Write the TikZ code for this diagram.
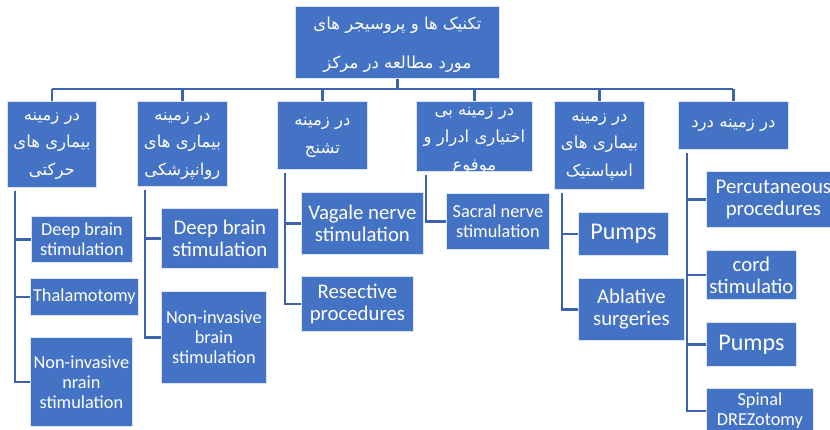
\documentclass[tikz,border=0pt]{standalone}
\usepackage{fontspec}
\setmainfont{Carlito}
\newfontfamily\fafont[Script=Arabic]{DejaVu Sans}
\TeXXeTstate=1
\usepackage{tikz}

\definecolor{boxblue}{HTML}{4472C4}
\definecolor{linkblue}{HTML}{3C64AE}
\newcommand{\fatext}[1]{\beginR #1\endR}
\newcommand{\falast}[1]{\smash{\beginR #1\endR}}

\tikzset{
  box/.style={draw=white!80!boxblue, line width=0.8pt, fill=boxblue, text=white,
              anchor=north west, align=center, inner sep=1pt},
  smallbox/.style={box, font=\fontsize{18.3}{20}\selectfont},
  largebox/.style={box, font=\fontsize{20.8}{22}\selectfont},
  bigbox/.style={box, font=\fontsize{24}{26}\selectfont},
  % #1 = distance from the top of the text box to the last baseline
  fabox/.style={box, text height=#1, font=\fafont\fontsize{16.5}{27.5}\selectfont},
  link/.style={draw=linkblue, line width=2.5pt},
}

\begin{document}
\begin{tikzpicture}[x=1pt,y=-1pt]
  \useasboundingbox (0,0) rectangle (830,430);
  \clip (0,0) rectangle (830,430);

  % root
  \node[fabox=52pt, minimum width=204pt, minimum height=72pt,
        font=\fafont\fontsize{16.5}{39}\selectfont] (root) at (295,6)
        {\fatext{تکنیک ها و پروسیجر های}\\\falast{مورد مطالعه در مرکز}};

  % first level
  \node[fabox=62pt, minimum width=89pt, minimum height=86pt] (c1) at (7,101)
        {\fatext{در زمینه}\\\fatext{بیماری های}\\\falast{حرکتی}};
  \node[fabox=63pt, minimum width=90pt, minimum height=85pt] (c2) at (137,101)
        {\fatext{در زمینه}\\\fatext{بیماری های}\\\falast{روانپزشکی}};
  \node[fabox=36pt, minimum width=90pt, minimum height=68pt] (c3) at (277,101)
        {\fatext{در زمینه}\\\falast{تشنج}};
  \node[fabox=68pt, minimum width=116pt, minimum height=70pt] (c4) at (416,101)
        {\fatext{در زمینه بی}\\\fatext{اختیاری ادرار و}\\\falast{موفوع}};
  \node[fabox=62pt, minimum width=90pt, minimum height=88pt] (c5) at (554,101)
        {\fatext{در زمینه}\\\fatext{بیماری های}\\\falast{اسپاستیک}};
  \node[fabox=4pt, minimum width=110pt, minimum height=48pt] (c6) at (678,101)
        {\falast{در زمینه درد}};

  % bus
  \coordinate (bus) at (0,89);
  \draw[link] (root.south) -- (root.south |- bus);
  \draw[link] (c1.north |- bus) -- (c6.north |- bus);
  \foreach \c in {c1,c2,c3,c4,c5,c6}
    \draw[link] (\c.north |- bus) -- (\c.north);

  % second level
  \node[smallbox, minimum width=101pt, minimum height=46pt] (d11) at (31,216) {Deep brain\\stimulation};
  \node[smallbox, minimum width=108pt, minimum height=37pt] (d12) at (30,278) {Thalamotomy};
  \node[smallbox, minimum width=102pt, minimum height=89pt] (d13) at (30,337) {Non-invasive\\nrain\\stimulation};

  \node[largebox, minimum width=117pt, minimum height=60pt] (d21) at (161,208) {Deep brain\\stimulation};
  \node[smallbox, minimum width=105pt, minimum height=92pt] (d22) at (161,291) {Non-invasive\\brain\\stimulation};

  \node[largebox, minimum width=122pt, minimum height=62pt] (d31) at (301,192) {Vagale nerve\\stimulation};
  \node[largebox, minimum width=112pt, minimum height=55pt] (d32) at (301,276) {Resective\\procedures};

  \node[smallbox, minimum width=103pt, minimum height=56pt] (d41) at (446,193) {Sacral nerve\\stimulation};

  \node[bigbox, minimum width=90pt, minimum height=43pt] (d51) at (578,212) {Pumps};
  \node[largebox, minimum width=106pt, minimum height=62pt] (d52) at (578,278) {Ablative\\surgeries};

  \node[largebox, minimum width=134pt, minimum height=56pt] (d61) at (706,171) {Percutaneous\\procedures};
  \node[largebox, minimum width=90pt, minimum height=49pt] (d62) at (706,250) {cord\\stimulatio};
  \node[bigbox, minimum width=90pt, minimum height=44pt] (d63) at (706,322) {Pumps};
  \node[smallbox, minimum width=107pt, minimum height=45pt] (d64) at (706,388) {Spinal\\DREZotomy};

  % trunks
  \coordinate (t1) at ([shift={(8,3)}]c1.south west);
  \coordinate (t2) at ([shift={(8,3)}]c2.south west);
  \coordinate (t3) at ([shift={(8,3)}]c3.south west);
  \coordinate (t4) at ([shift={(10,3)}]c4.south west);
  \coordinate (t5) at ([shift={(8,3)}]c5.south west);
  \coordinate (t6) at ([shift={(9,3)}]c6.south west);

  \foreach \d in {d11,d12,d13} \draw[link] (t1) |- (\d.west);
  \foreach \d in {d21,d22} \draw[link] (t2) |- (\d.west);
  \foreach \d in {d31,d32} \draw[link] (t3) |- (\d.west);
  \draw[link] (t4) |- (d41.west);
  \foreach \d in {d51,d52} \draw[link] (t5) |- (\d.west);
  \foreach \d in {d61,d62,d63,d64} \draw[link] (t6) |- (\d.west);
\end{tikzpicture}
\end{document}
